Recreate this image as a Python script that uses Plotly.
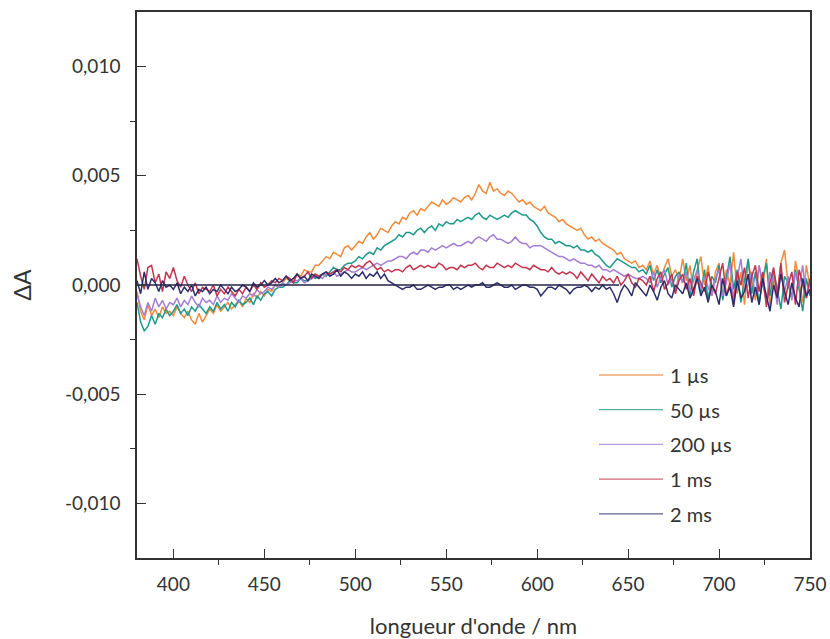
import plotly.graph_objects as go

wavelength_nm = [
    380, 382, 384, 386, 388, 390, 392, 394, 396, 398,
    400, 402, 404, 406, 408, 410, 412, 414, 416, 418,
    420, 422, 424, 426, 428, 430, 432, 434, 436, 438,
    440, 442, 444, 446, 448, 450, 452, 454, 456, 458,
    460, 462, 464, 466, 468, 470, 472, 474, 476, 478,
    480, 482, 484, 486, 488, 490, 492, 494, 496, 498,
    500, 502, 504, 506, 508, 510, 512, 514, 516, 518,
    520, 522, 524, 526, 528, 530, 532, 534, 536, 538,
    540, 542, 544, 546, 548, 550, 552, 554, 556, 558,
    560, 562, 564, 566, 568, 570, 572, 574, 576, 578,
    580, 582, 584, 586, 588, 590, 592, 594, 596, 598,
    600, 602, 604, 606, 608, 610, 612, 614, 616, 618,
    620, 622, 624, 626, 628, 630, 632, 634, 636, 638,
    640, 642, 644, 646, 648, 650, 652, 654, 656, 658,
    660, 662, 664, 666, 668, 670, 672, 674, 676, 678,
    680, 682, 684, 686, 688, 690, 692, 694, 696, 698,
    700, 702, 704, 706, 708, 710, 712, 714, 716, 718,
    720, 722, 724, 726, 728, 730, 732, 734, 736, 738,
    740, 742, 744, 746, 748, 750,
]

dA_1us = [
    -0.0003, -0.0012, -0.0016, -0.0009, -0.0014, -0.0011, -0.0015, -0.0010, -0.0013, -0.0012,
    -0.0014, -0.0010, -0.0013, -0.0015, -0.0012, -0.0016, -0.0018, -0.0013, -0.0017, -0.0014,
    -0.0011, -0.0013, -0.0009, -0.0012, -0.0010, -0.0008, -0.0011, -0.0009, -0.0007, -0.0010,
    -0.0006, -0.0008, -0.0004, -0.0006, -0.0003, -0.0005, -0.0002, -0.0003, 0.0000, -0.0001,
    0.0001, 0.0003, 0.0002, 0.0002, 0.0005, 0.0004, 0.0007, 0.0006, 0.0006, 0.0009,
    0.0009, 0.0011, 0.0013, 0.0012, 0.0015, 0.0014, 0.0013, 0.0017, 0.0018, 0.0016,
    0.0018, 0.0020, 0.0019, 0.0022, 0.0024, 0.0021, 0.0023, 0.0026, 0.0025, 0.0024,
    0.0027, 0.0029, 0.0028, 0.0031, 0.0030, 0.0033, 0.0034, 0.0032, 0.0035, 0.0034,
    0.0036, 0.0038, 0.0037, 0.0036, 0.0039, 0.0037, 0.0038, 0.0040, 0.0039, 0.0038,
    0.0040, 0.0041, 0.0039, 0.0042, 0.0046, 0.0043, 0.0042, 0.0047, 0.0043, 0.0044,
    0.0042, 0.0041, 0.0043, 0.0042, 0.0040, 0.0038, 0.0039, 0.0037, 0.0038, 0.0036,
    0.0035, 0.0034, 0.0036, 0.0033, 0.0032, 0.0031, 0.0029, 0.0030, 0.0028, 0.0027,
    0.0026, 0.0025, 0.0026, 0.0023, 0.0021, 0.0022, 0.0020, 0.0021, 0.0019, 0.0018,
    0.0017, 0.0016, 0.0014, 0.0015, 0.0012, 0.0011, 0.0010, 0.0011, 0.0008, 0.0009,
    0.0007, 0.0011, 0.0005, 0.0009, 0.0003, 0.0008, 0.0012, 0.0004, 0.0007, 0.0002,
    0.0012, 0.0002, 0.0009, -0.0004, 0.0007, 0.0013, 0.0000, 0.0009, -0.0005, 0.0006,
    0.0010, -0.0006, 0.0007, 0.0000, 0.0015, -0.0004, 0.0006, -0.0009, 0.0011, 0.0002,
    -0.0007, 0.0009, -0.0001, 0.0012, -0.0010, 0.0004, -0.0004, 0.0010, 0.0016, 0.0000,
    -0.0006, 0.0011, 0.0002, -0.0008, 0.0009, -0.0001,
]

dA_50us = [
    -0.0008, -0.0017, -0.0021, -0.0019, -0.0014, -0.0018, -0.0013, -0.0015, -0.0011, -0.0014,
    -0.0012, -0.0009, -0.0013, -0.0011, -0.0014, -0.0010, -0.0012, -0.0009, -0.0011, -0.0013,
    -0.0010, -0.0012, -0.0008, -0.0011, -0.0009, -0.0012, -0.0008, -0.0010, -0.0007, -0.0009,
    -0.0008, -0.0006, -0.0009, -0.0005, -0.0007, -0.0004, -0.0003, -0.0005, -0.0002, -0.0001,
    -0.0001, 0.0000, 0.0002, 0.0001, 0.0001, 0.0003, 0.0002, 0.0002, 0.0004, 0.0003,
    0.0004, 0.0005, 0.0004, 0.0006, 0.0008, 0.0007, 0.0007, 0.0009, 0.0010, 0.0010,
    0.0011, 0.0013, 0.0012, 0.0014, 0.0015, 0.0014, 0.0017, 0.0016, 0.0018, 0.0019,
    0.0020, 0.0021, 0.0023, 0.0022, 0.0024, 0.0024, 0.0023, 0.0025, 0.0026, 0.0024,
    0.0026, 0.0027, 0.0025, 0.0028, 0.0027, 0.0029, 0.0028, 0.0028, 0.0030, 0.0029,
    0.0030, 0.0031, 0.0030, 0.0032, 0.0033, 0.0031, 0.0030, 0.0032, 0.0031, 0.0030,
    0.0031, 0.0032, 0.0031, 0.0033, 0.0034, 0.0033, 0.0032, 0.0032, 0.0030, 0.0029,
    0.0027, 0.0024, 0.0022, 0.0021, 0.0021, 0.0019, 0.0020, 0.0019, 0.0018, 0.0018,
    0.0017, 0.0018, 0.0016, 0.0016, 0.0015, 0.0016, 0.0014, 0.0013, 0.0011, 0.0009,
    0.0008, 0.0010, 0.0012, 0.0011, 0.0010, 0.0009, 0.0008, 0.0008, 0.0006, 0.0007,
    0.0005, 0.0009, 0.0002, 0.0007, 0.0001, 0.0005, 0.0008, -0.0001, 0.0004, 0.0006,
    0.0001, 0.0010, -0.0005, 0.0006, 0.0012, -0.0004, 0.0007, -0.0007, 0.0004, 0.0001,
    0.0009, -0.0007, 0.0004, 0.0013, -0.0002, 0.0007, -0.0008, 0.0003, 0.0012, -0.0004,
    0.0006, -0.0009, 0.0003, 0.0010, -0.0005, 0.0007, -0.0002, -0.0011, 0.0004, 0.0001,
    -0.0006, 0.0007, -0.0002, -0.0012, 0.0003, -0.0005,
]

dA_200us = [
    -0.0004, -0.0010, -0.0014, -0.0008, -0.0012, -0.0006, -0.0010, -0.0007, -0.0011, -0.0008,
    -0.0009, -0.0006, -0.0010, -0.0007, -0.0009, -0.0005, -0.0008, -0.0010, -0.0006, -0.0008,
    -0.0007, -0.0009, -0.0005, -0.0008, -0.0006, -0.0007, -0.0004, -0.0006, -0.0008, -0.0005,
    -0.0006, -0.0004, -0.0005, -0.0002, -0.0004, -0.0003, -0.0001, -0.0002, 0.0000, -0.0001,
    0.0001, 0.0000, 0.0001, 0.0002, 0.0002, 0.0003, 0.0001, 0.0002, 0.0003, 0.0004,
    0.0004, 0.0003, 0.0005, 0.0005, 0.0006, 0.0004, 0.0005, 0.0006, 0.0007, 0.0006,
    0.0006, 0.0007, 0.0008, 0.0007, 0.0008, 0.0009, 0.0010, 0.0009, 0.0010, 0.0011,
    0.0011, 0.0012, 0.0013, 0.0013, 0.0012, 0.0014, 0.0015, 0.0014, 0.0016, 0.0016,
    0.0015, 0.0017, 0.0016, 0.0017, 0.0018, 0.0017, 0.0018, 0.0019, 0.0018, 0.0018,
    0.0019, 0.0020, 0.0019, 0.0021, 0.0022, 0.0021, 0.0020, 0.0022, 0.0023, 0.0021,
    0.0021, 0.0020, 0.0019, 0.0020, 0.0022, 0.0020, 0.0019, 0.0019, 0.0017, 0.0018,
    0.0018, 0.0018, 0.0017, 0.0016, 0.0015, 0.0014, 0.0013, 0.0013, 0.0012, 0.0011,
    0.0012, 0.0011, 0.0010, 0.0010, 0.0009, 0.0009, 0.0008, 0.0009, 0.0007, 0.0007,
    0.0006, 0.0007, 0.0006, 0.0005, 0.0004, 0.0005, 0.0004, 0.0003, 0.0003, 0.0004,
    0.0003, 0.0001, 0.0006, -0.0001, 0.0004, 0.0007, 0.0000, 0.0003, -0.0003, 0.0005,
    0.0001, 0.0006, -0.0003, 0.0002, 0.0007, -0.0002, 0.0004, -0.0001, -0.0005, 0.0003,
    0.0007, -0.0005, 0.0001, 0.0010, -0.0006, 0.0003, 0.0012, -0.0003, 0.0000, 0.0006,
    -0.0005, 0.0009, 0.0000, -0.0008, 0.0006, 0.0001, -0.0009, 0.0007, -0.0003, 0.0004,
    -0.0007, 0.0006, -0.0001, 0.0009, -0.0006, 0.0001,
]

dA_1ms = [
    0.0012, 0.0004, -0.0002, 0.0008, 0.0009, 0.0001, 0.0005, -0.0003, 0.0006, 0.0003,
    0.0008, 0.0002, -0.0001, 0.0004, 0.0000, -0.0003, 0.0001, -0.0004, -0.0001, -0.0002,
    -0.0003, 0.0000, -0.0005, -0.0002, -0.0004, -0.0001, -0.0003, -0.0005, -0.0002, -0.0004,
    -0.0001, -0.0003, 0.0000, -0.0002, 0.0001, -0.0001, 0.0000, 0.0002, 0.0001, 0.0003,
    0.0002, 0.0004, 0.0003, 0.0001, 0.0005, 0.0003, 0.0004, 0.0006, 0.0003, 0.0005,
    0.0004, 0.0005, 0.0006, 0.0005, 0.0006, 0.0007, 0.0006, 0.0008, 0.0007, 0.0009,
    0.0008, 0.0009, 0.0008, 0.0010, 0.0011, 0.0009, 0.0007, 0.0008, 0.0006, 0.0007,
    0.0006, 0.0007, 0.0007, 0.0006, 0.0008, 0.0009, 0.0007, 0.0008, 0.0009, 0.0008,
    0.0009, 0.0008, 0.0008, 0.0010, 0.0009, 0.0007, 0.0008, 0.0008, 0.0007, 0.0009,
    0.0008, 0.0009, 0.0009, 0.0010, 0.0008, 0.0007, 0.0009, 0.0008, 0.0008, 0.0010,
    0.0009, 0.0008, 0.0009, 0.0008, 0.0010, 0.0009, 0.0008, 0.0008, 0.0007, 0.0009,
    0.0008, 0.0007, 0.0007, 0.0006, 0.0008, 0.0006, 0.0005, 0.0006, 0.0005, 0.0006,
    0.0005, 0.0003, 0.0006, 0.0004, 0.0002, 0.0005, 0.0003, 0.0001, 0.0004, 0.0002,
    0.0003, 0.0001, 0.0004, 0.0000, 0.0002, 0.0005, 0.0001, -0.0001, 0.0003, 0.0002,
    0.0000, 0.0004, -0.0003, 0.0003, 0.0006, -0.0002, 0.0001, 0.0005, -0.0004, 0.0002,
    0.0005, -0.0002, 0.0003, -0.0005, 0.0004, 0.0001, -0.0003, 0.0006, 0.0000, -0.0004,
    0.0003, 0.0010, -0.0005, 0.0001, -0.0009, 0.0006, 0.0000, 0.0008, -0.0006, 0.0004,
    0.0009, -0.0003, 0.0006, -0.0010, 0.0001, 0.0008, -0.0005, 0.0010, -0.0008, 0.0000,
    0.0006, -0.0009, 0.0007, 0.0000, -0.0006, 0.0003,
]

dA_2ms = [
    0.0002, -0.0004, 0.0006, -0.0002, 0.0003, 0.0001, -0.0003, 0.0002, -0.0001, 0.0000,
    -0.0002, 0.0001, -0.0004, -0.0001, -0.0003, 0.0000, -0.0005, -0.0002, -0.0003, -0.0001,
    -0.0004, -0.0002, -0.0003, 0.0000, -0.0002, -0.0004, -0.0001, -0.0003, -0.0002, 0.0000,
    -0.0001, -0.0003, 0.0001, -0.0001, 0.0000, 0.0002, 0.0000, 0.0001, 0.0003, 0.0001,
    0.0002, 0.0004, 0.0002, 0.0003, 0.0005, 0.0003, 0.0004, 0.0002, 0.0005, 0.0004,
    0.0003, 0.0005, 0.0006, 0.0004, 0.0005, 0.0007, 0.0004, 0.0006, 0.0005, 0.0003,
    0.0005, 0.0004, 0.0006, 0.0003, 0.0005, 0.0004, 0.0006, 0.0003, 0.0005, 0.0002,
    0.0001, 0.0000, -0.0001, -0.0002, -0.0001, -0.0001, 0.0000, -0.0002, -0.0002, -0.0001,
    0.0000, -0.0001, -0.0002, -0.0001, -0.0001, 0.0000, 0.0000, -0.0002, -0.0001, -0.0002,
    -0.0001, 0.0000, -0.0001, 0.0000, 0.0000, 0.0001, -0.0001, -0.0001, 0.0000, 0.0001,
    0.0000, -0.0001, -0.0001, 0.0000, -0.0002, -0.0001, 0.0000, 0.0000, -0.0001, -0.0001,
    -0.0002, -0.0005, -0.0003, -0.0001, -0.0001, -0.0002, 0.0000, -0.0001, -0.0002, -0.0004,
    -0.0002, -0.0001, -0.0001, 0.0000, -0.0001, -0.0003, -0.0001, -0.0002, 0.0000, -0.0002,
    -0.0001, -0.0004, -0.0008, -0.0003, 0.0000, -0.0002, -0.0005, 0.0001, -0.0001, -0.0003,
    -0.0005, 0.0000, -0.0003, -0.0007, -0.0001, 0.0002, -0.0004, -0.0006, 0.0000, -0.0002,
    -0.0004, 0.0001, -0.0006, -0.0002, 0.0003, -0.0005, -0.0001, -0.0008, 0.0000, -0.0003,
    -0.0009, 0.0003, -0.0005, -0.0001, -0.0010, 0.0002, -0.0006, -0.0003, 0.0005, -0.0008,
    -0.0001, -0.0009, 0.0003, -0.0005, -0.0012, 0.0000, -0.0006, 0.0005, -0.0003, -0.0009,
    0.0001, -0.0006, -0.0010, 0.0003, -0.0005, -0.0002,
]

zero_line_nm = [380, 645]
zero_line_dA = [0.0, 0.0]

series_names = ["1 µs", "50 µs", "200 µs", "1 ms", "2 ms"]
series_values = [dA_1us, dA_50us, dA_200us, dA_1ms, dA_2ms]
series_colors = ["#F08A3C", "#1E9A8B", "#A27ED4", "#C4344C", "#2D2D6B"]

x_tick_vals = [400, 450, 500, 550, 600, 650, 700, 750]
x_minor_vals = [425, 475, 525, 575, 625, 675, 725]
y_tick_vals = [-0.010, -0.005, 0.0, 0.005, 0.010]
y_tick_text = ["-0,010", "-0,005", "0,000", "0,005", "0,010"]
y_minor_vals = [-0.0075, -0.0025, 0.0025, 0.0075]

FONT = "Lato, 'Open Sans', sans-serif"
TXT = "#333333"

# plot-area geometry in pixels (layout only)
W, H = 830, 639
ML, MR, MT, MB = 137, 20, 12, 81
PW, PH = W - ML - MR, H - MT - MB

fig = go.Figure()
for name, vals, col in zip(series_names, series_values, series_colors):
    fig.add_trace(go.Scatter(
        x=wavelength_nm, y=vals, mode="lines", name=name,
        line=dict(color=col, width=1.5), showlegend=False,
    ))

fig.add_trace(go.Scatter(
    x=zero_line_nm, y=zero_line_dA, mode="lines", showlegend=False,
    line=dict(color="#23234A", width=1.6), hoverinfo="skip",
))

# manual legend (long sample lines like the original)
leg_x0_px, leg_x1_px, leg_txt_px = 599, 663, 668
leg_y0_px, leg_step_px = 375, 34.7
shapes, annotations = [], []
for i, (name, col) in enumerate(zip(series_names, series_colors)):
    ypx = leg_y0_px + i * leg_step_px
    yp = ((MT + PH) - ypx) / PH
    shapes.append(dict(
        type="line", xref="paper", yref="paper",
        x0=(leg_x0_px - ML) / PW, x1=(leg_x1_px - ML) / PW, y0=yp, y1=yp,
        line=dict(color=col, width=1.3), opacity=0.75,
    ))
    annotations.append(dict(
        xref="paper", yref="paper", x=(leg_txt_px - ML) / PW, y=yp,
        xanchor="left", yanchor="middle", text=name, showarrow=False,
        font=dict(family=FONT, size=20, color=TXT),
    ))

axis_common = dict(
    showline=True, linecolor="#333333", linewidth=1.5, mirror=True,
    showgrid=False, zeroline=False, ticks="inside", ticklen=9,
    tickwidth=1.3, tickcolor="#333333", automargin=False,
    tickfont=dict(family=FONT, size=19, color=TXT),
)

fig.update_layout(
    width=W, height=H,
    margin=dict(l=ML, r=MR, t=MT, b=MB),
    paper_bgcolor="white", plot_bgcolor="white",
    font=dict(family=FONT, color=TXT),
    xaxis=dict(
        range=[380, 750], tickmode="array", tickvals=x_tick_vals,
        minor=dict(tickmode="array", tickvals=x_minor_vals, ticks="outside",
                   ticklen=5, tickwidth=1.3, tickcolor="#333333"),
        title=dict(text="longueur d'onde / nm", font=dict(family=FONT, size=22, color=TXT), standoff=26),
        ticklabelstandoff=8,
        **axis_common,
    ),
    yaxis=dict(
        range=[-0.0125, 0.0125], tickmode="array", tickvals=y_tick_vals, ticktext=y_tick_text,
        minor=dict(tickmode="array", tickvals=y_minor_vals, ticks="outside",
                   ticklen=5, tickwidth=1.3, tickcolor="#333333"),
        title=dict(text="ΔA", font=dict(family=FONT, size=23, color=TXT), standoff=27),
        ticklabelstandoff=11,
        **axis_common,
    ),
    showlegend=False,
    shapes=shapes,
    annotations=annotations,
)

fig.write_html(
    "out.html",
    config={"displayModeBar": False},
    post_script="document.body.style.margin='0px';document.body.style.overflow='hidden';",
)
